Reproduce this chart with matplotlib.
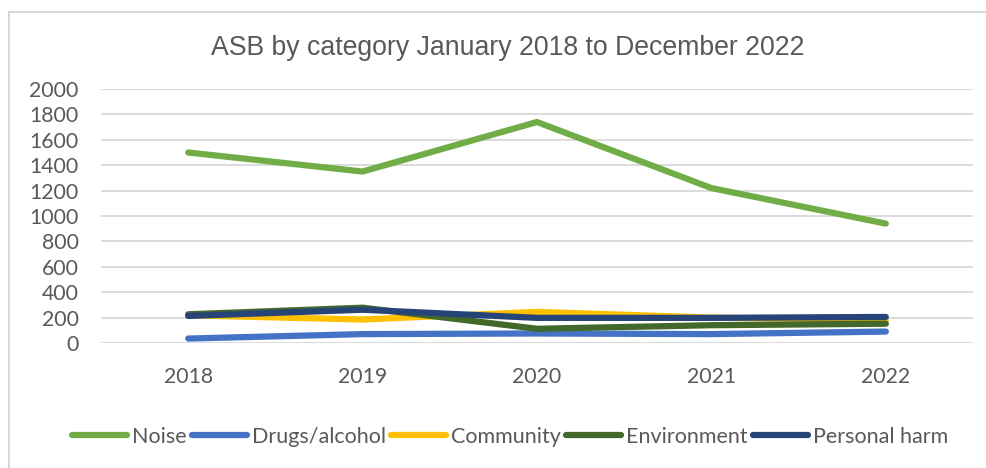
import matplotlib
matplotlib.use("Agg")
import matplotlib.pyplot as plt
from matplotlib.patches import Rectangle

# Chart data
years = ["2018", "2019", "2020", "2021", "2022"]
noise = [1500, 1350, 1740, 1220, 940]
drugs_alcohol = [35, 70, 75, 70, 90]
community = [218, 185, 245, 200, 178]
environment = [226, 278, 112, 140, 152]
personal_harm = [213, 262, 198, 198, 205]

series = [
    ("Noise", noise, "#70AD47"),
    ("Drugs/alcohol", drugs_alcohol, "#4472C4"),
    ("Community", community, "#FFC000"),
    ("Environment", environment, "#43682B"),
    ("Personal harm", personal_harm, "#264478"),
]

W, H = 987, 468
fig = plt.figure(figsize=(W / 100, H / 100), dpi=100)
fig.patch.set_facecolor("white")

# chart frame (only left/top edges are visible in the crop)
fig.patches.append(Rectangle((9 / W, -0.1), 1.2, 1 - 12 / H + 0.1,
                             transform=fig.transFigure, fill=False,
                             edgecolor="#D9D9D9", linewidth=1.5))

ax = fig.add_axes([101 / W, 1 - 343 / H, (973 - 101) / W, (343 - 89) / H])
x = list(range(len(years)))
for name, vals, color in series:
    ax.plot(x, vals, color=color, linewidth=4.5, solid_capstyle="round",
            solid_joinstyle="round", label=name)

ax.set_xlim(-0.5, len(years) - 0.5)
ax.set_ylim(0, 2000)
ax.set_yticks(range(0, 2001, 200))
ax.set_xticks(x)
ax.set_xticklabels(years)
ax.grid(axis="y", color="#D9D9D9", linewidth=1.3)
ax.set_axisbelow(True)
for s in ax.spines.values():
    s.set_visible(False)
ax.tick_params(length=0, labelsize=15.3, labelcolor="#595959")
ax.tick_params(axis="y", pad=16)
ax.tick_params(axis="x", pad=17)
for lab in ax.get_xticklabels() + ax.get_yticklabels():
    lab.set_family("Lato")

fig.text(508 / W, 1 - 48 / H, "ASB by category January 2018 to December 2022",
         ha="center", va="center", fontsize=19.2, color="#595959",
         family="Liberation Sans")

leg = fig.legend(loc="center", bbox_to_anchor=(510 / W, 1 - 437 / H), ncol=5,
                 frameon=False, prop={"family": "Lato", "size": 15.5},
                 handlelength=2.55, handletextpad=0.23, columnspacing=0.25)
for t in leg.get_texts():
    t.set_color("#595959")

fig.savefig("out.png", dpi=100)
